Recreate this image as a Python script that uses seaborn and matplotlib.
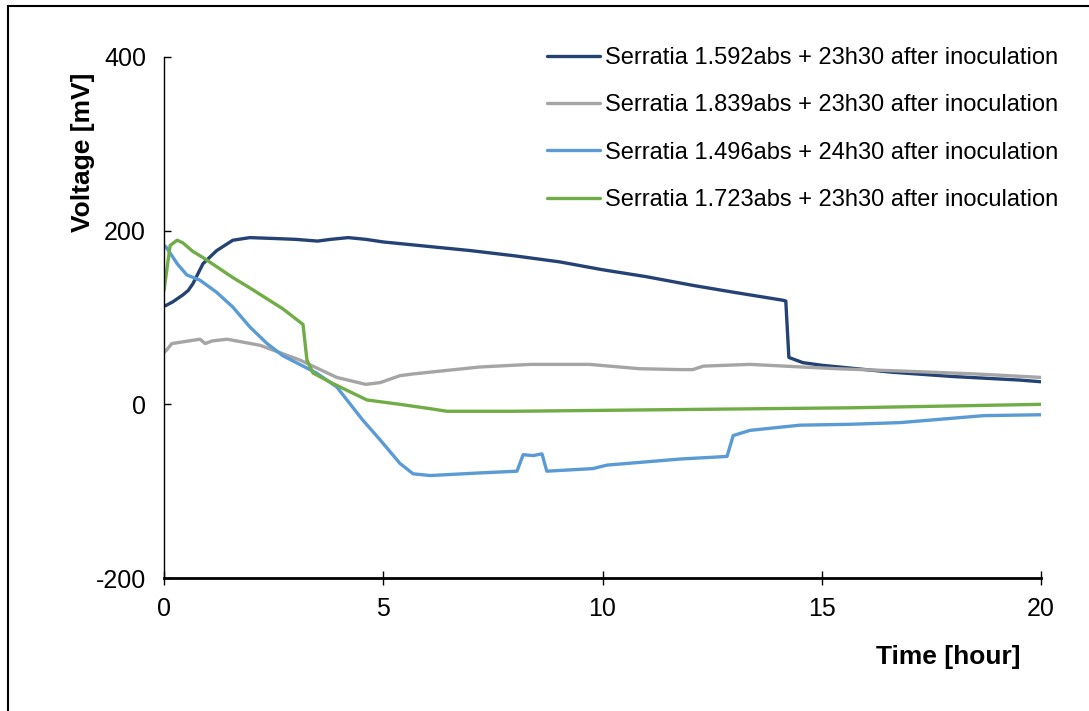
import numpy as np
import pandas as pd
import matplotlib
matplotlib.use('Agg')
import matplotlib.pyplot as plt
import seaborn as sns
from matplotlib.patches import Rectangle

# Values (time in hours, voltage in mV)
t_dark = [0.0, 0.05, 0.2, 0.43, 0.55, 0.66, 0.89, 1.2, 1.57, 1.96, 2.5, 3.0, 3.5, 3.8, 4.2, 4.6, 5.0, 5.4,
          6.0, 7.0, 8.0, 9.03, 10.0, 11.0, 12.06, 13.0, 14.1, 14.18, 14.25, 14.57, 15.0, 16.6, 18.0, 19.5, 20.0]
v_dark = [113, 114, 118, 126, 131, 139, 162, 177, 189, 192, 191, 190, 188, 190, 192, 190, 187, 185,
          182, 177, 171, 164, 155, 147, 137, 129, 120, 119, 54, 48, 45, 37, 32, 28, 26]

t_gray = [0.0, 0.05, 0.18, 0.82, 0.94, 1.1, 1.44, 2.19, 3.1, 3.94, 4.6, 4.93, 5.38, 5.68, 7.2, 8.35,
          9.7, 10.85, 11.77, 12.06, 12.3, 13.36, 15.35, 17.0, 18.5, 20.0]
v_gray = [60, 62, 70, 75, 70, 73, 75, 68, 51, 31, 23, 25, 33, 35, 43, 46,
          46, 41, 40, 40, 44, 46, 41, 38, 35, 31]

t_light = [0.0, 0.05, 0.3, 0.52, 0.82, 1.2, 1.57, 1.96, 2.35, 2.71, 3.48, 3.94, 4.53, 4.93, 5.38, 5.68,
           6.07, 7.2, 8.05, 8.19, 8.42, 8.62, 8.73, 9.78, 10.1, 11.77, 12.84, 12.98, 13.36, 14.5,
           15.64, 16.8, 18.7, 20.0]
v_light = [183, 181, 162, 149, 143, 129, 112, 89, 70, 56, 36, 20, -18, -41, -68, -80,
           -82, -79, -77, -58, -59, -57, -77, -74, -70, -63, -60, -36, -30, -24,
           -23, -21, -13, -12]

t_green = [0.0, 0.14, 0.3, 0.43, 0.66, 0.89, 1.57, 1.96, 2.71, 3.17, 3.26, 3.4, 3.85, 4.63, 5.38,
           6.07, 6.45, 7.97, 11.77, 15.64, 20.0]
v_green = [131, 183, 189, 186, 176, 169, 146, 134, 110, 92, 51, 36, 24, 5, 0,
           -5, -8, -8, -6, -4, 0]

labels = ['Serratia 1.592abs + 23h30 after inoculation',
          'Serratia 1.839abs + 23h30 after inoculation',
          'Serratia 1.496abs + 24h30 after inoculation',
          'Serratia 1.723abs + 23h30 after inoculation']
colors = ['#254275', '#A5A5A5', '#5B9BD5', '#70AD47']

series = [(t_dark, v_dark), (t_gray, v_gray), (t_light, v_light), (t_green, v_green)]
df = pd.concat([pd.DataFrame({'Time': t, 'Voltage': v, 'Series': lab})
                for (t, v), lab in zip(series, labels)], ignore_index=True)

sns.set_style('white')
plt.rcParams['font.family'] = ['Liberation Sans', 'DejaVu Sans']
plt.rcParams['axes.unicode_minus'] = False
plt.rcParams['text.color'] = 'black'
plt.rcParams['axes.labelcolor'] = 'black'
plt.rcParams['xtick.color'] = 'black'
plt.rcParams['ytick.color'] = 'black'

fig = plt.figure(figsize=(10.89, 7.11), dpi=100)
ax = fig.add_axes([164/1089, 1-578/711, 877/1089, 521/711])

sns.lineplot(data=df, x='Time', y='Voltage', hue='Series', hue_order=labels,
             palette=colors, linewidth=2.4, sort=False, estimator=None, ax=ax)

ax.set_xlim(0, 20)
ax.set_ylim(-200, 400)
ax.set_xticks([0, 5, 10, 15, 20])
ax.set_yticks([-200, 0, 200, 400])
for s in ['top', 'right']:
    ax.spines[s].set_visible(False)
ax.spines['left'].set_color('black')
ax.spines['left'].set_linewidth(1.0)
ax.spines['bottom'].set_color('black')
ax.spines['bottom'].set_linewidth(2.0)
ax.tick_params(axis='y', direction='in', length=5, width=1, labelsize=18, pad=13, left=True)
ax.tick_params(axis='x', direction='inout', length=10, width=1, labelsize=18, pad=9, bottom=True)

ax.set_xlabel('Time [hour]', fontsize=19, fontweight='bold')
ax.set_ylabel('Voltage [mV]', fontsize=19, fontweight='bold')
ax.xaxis.set_label_coords(0.894, -0.128)
ax.yaxis.set_label_coords(-0.079, 0.818)

ax.legend(frameon=False, fontsize=17, loc='upper right',
          bbox_to_anchor=(1058/1089, 1-47/711), bbox_transform=fig.transFigure,
          handlelength=2.25, handletextpad=0.2, labelspacing=1.07, borderpad=0, borderaxespad=0)

# outer chart-area border (left and top visible in the reference)
fig.patches.append(Rectangle((8/1089, -0.05), 1.2, 1-6/711+0.05, transform=fig.transFigure,
                             fill=False, edgecolor='black', linewidth=1.5))

fig.savefig('out.png', dpi=100)
